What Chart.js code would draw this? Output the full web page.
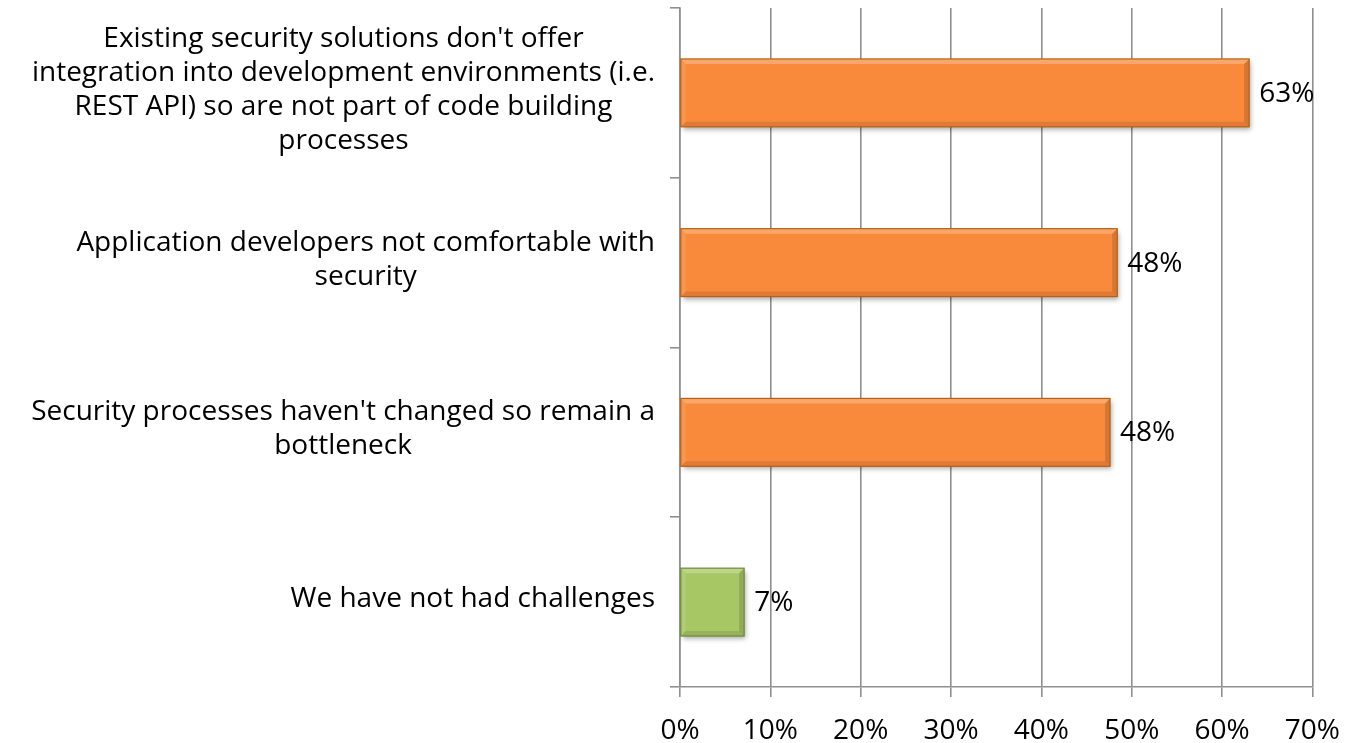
<!DOCTYPE html>
<html>
<head>
<meta charset="utf-8">
<script src="https://cdn.jsdelivr.net/npm/chart.js@4.4.1/dist/chart.umd.min.js"></script>
<style>
  html, body { margin: 0; padding: 0; background: #ffffff; }
  #wrap { width: 1357px; height: 743px; position: relative; }
</style>
</head>
<body>
<div id="wrap"><canvas id="c" width="1357" height="743"></canvas></div>
<script>
// ---- Data ----
const categories = [
  ["Existing security solutions don't offer", "integration into development environments (i.e.", "REST API) so are not part of code building", "processes"],
  ["Application developers not comfortable with", "security"],
  ["Security processes haven't changed so remain a", "bottleneck"],
  ["We have not had challenges"]
];
const values = [63.0, 48.4, 47.6, 7.1];
const valueLabels = ["63%", "48%", "48%", "7%"];
const barColors = ["#F98A3B", "#F98A3B", "#F98A3B", "#A7C765"];
const barBorders = ["#B9600F", "#B9600F", "#B9600F", "#6F8A3A"];
const xTicks = [0, 10, 20, 30, 40, 50, 60, 70];

const FONT = "'Open Sans', 'Noto Sans', 'Liberation Sans', sans-serif";
const FS = 28;
const GRID = '#8f8f8f';

const shadowPlugin = {
  id: 'shadow',
  beforeDatasetDraw(chart) {
    const ctx = chart.ctx;
    ctx.save();
    ctx.shadowColor = 'rgba(0,0,0,0.35)';
    ctx.shadowBlur = 5;
    ctx.shadowOffsetX = 2;
    ctx.shadowOffsetY = 3;
  },
  afterDatasetDraw(chart) {
    chart.ctx.restore();
  }
};

const bevelPlugin = {
  id: 'bevel',
  afterDatasetsDraw(chart) {
    const ctx = chart.ctx;
    const meta = chart.getDatasetMeta(0);
    meta.data.forEach((bar, i) => {
      const x0 = bar.base, x1 = bar.x;
      const h = bar.height;
      const y0 = bar.y - h / 2, y1 = bar.y + h / 2;
      const b = 5;
      const poly = (pts, fill) => {
        ctx.beginPath();
        ctx.moveTo(pts[0][0], pts[0][1]);
        for (let k = 1; k < pts.length; k++) ctx.lineTo(pts[k][0], pts[k][1]);
        ctx.closePath();
        ctx.fillStyle = fill;
        ctx.fill();
      };
      ctx.save();
      poly([[x0, y0], [x1, y0], [x1 - b, y0 + b], [x0 + b, y0 + b]], 'rgba(255,255,255,0.25)');
      poly([[x0, y0], [x0 + b, y0 + b], [x0 + b, y1 - b], [x0, y1]], 'rgba(255,255,255,0.1)');
      poly([[x0, y1], [x0 + b, y1 - b], [x1 - b, y1 - b], [x1, y1]], 'rgba(0,0,0,0.1)');
      poly([[x1, y0], [x1, y1], [x1 - b, y1 - b], [x1 - b, y0 + b]], 'rgba(0,0,0,0.14)');
      ctx.strokeStyle = barBorders[i];
      ctx.lineWidth = 1.2;
      ctx.strokeRect(x0, y0, x1 - x0, y1 - y0);
      ctx.fillStyle = '#000';
      ctx.font = FS + 'px ' + FONT;
      ctx.textAlign = 'left';
      ctx.textBaseline = 'middle';
      ctx.fillText(valueLabels[i], x1 + 10, bar.y + 1);
      ctx.restore();
    });
  }
};

const catLabelPlugin = {
  id: 'catLabels',
  afterDraw(chart) {
    const ctx = chart.ctx;
    const ys = chart.scales.y;
    const lh = 34;
    ctx.save();
    ctx.font = FS + 'px ' + FONT;
    ctx.fillStyle = '#000';
    ctx.textBaseline = 'middle';
    ctx.textAlign = 'center';
    const right = ys.right - 25;
    categories.forEach((lines, i) => {
      const cy = ys.getPixelForValue(i) - 3;
      let maxW = 0;
      lines.forEach(l => { maxW = Math.max(maxW, ctx.measureText(l).width); });
      const cx = right - maxW / 2;
      const top = cy - (lines.length - 1) * lh / 2;
      lines.forEach((l, k) => ctx.fillText(l, cx, top + k * lh));
    });
    ctx.restore();
  }
};

new Chart(document.getElementById('c'), {
  type: 'bar',
  data: {
    labels: categories.map((c, i) => String(i)),
    datasets: [{
      data: values,
      backgroundColor: barColors,
      borderWidth: 0,
      categoryPercentage: 0.8,
      barPercentage: 0.5
    }]
  },
  options: {
    indexAxis: 'y',
    responsive: false,
    animation: false,
    layout: { padding: { left: 0, right: 43, top: 8, bottom: 0 } },
    plugins: { legend: { display: false }, tooltip: { enabled: false } },
    scales: {
      x: {
        min: 0, max: 70,
        afterBuildTicks(scale) { scale.ticks = xTicks.map(v => ({ value: v })); },
        afterFit(scale) { scale.height = 56; },
        grid: { color: GRID, lineWidth: 1.6, tickLength: 10, drawTicks: true },
        border: { display: true, color: GRID, width: 1.6 },
        ticks: {
          padding: 17,
          color: '#000',
          font: { family: FONT, size: FS },
          callback: v => v + '%'
        }
      },
      y: {
        offset: true,
        afterFit(scale) { scale.width = 680; },
        grid: { display: true, drawOnChartArea: false, offset: true, color: GRID, lineWidth: 1.6, tickLength: 10 },
        border: { display: true, color: GRID, width: 1.6 },
        ticks: { display: false }
      }
    }
  },
  plugins: [shadowPlugin, bevelPlugin, catLabelPlugin]
});
</script>
</body>
</html>
